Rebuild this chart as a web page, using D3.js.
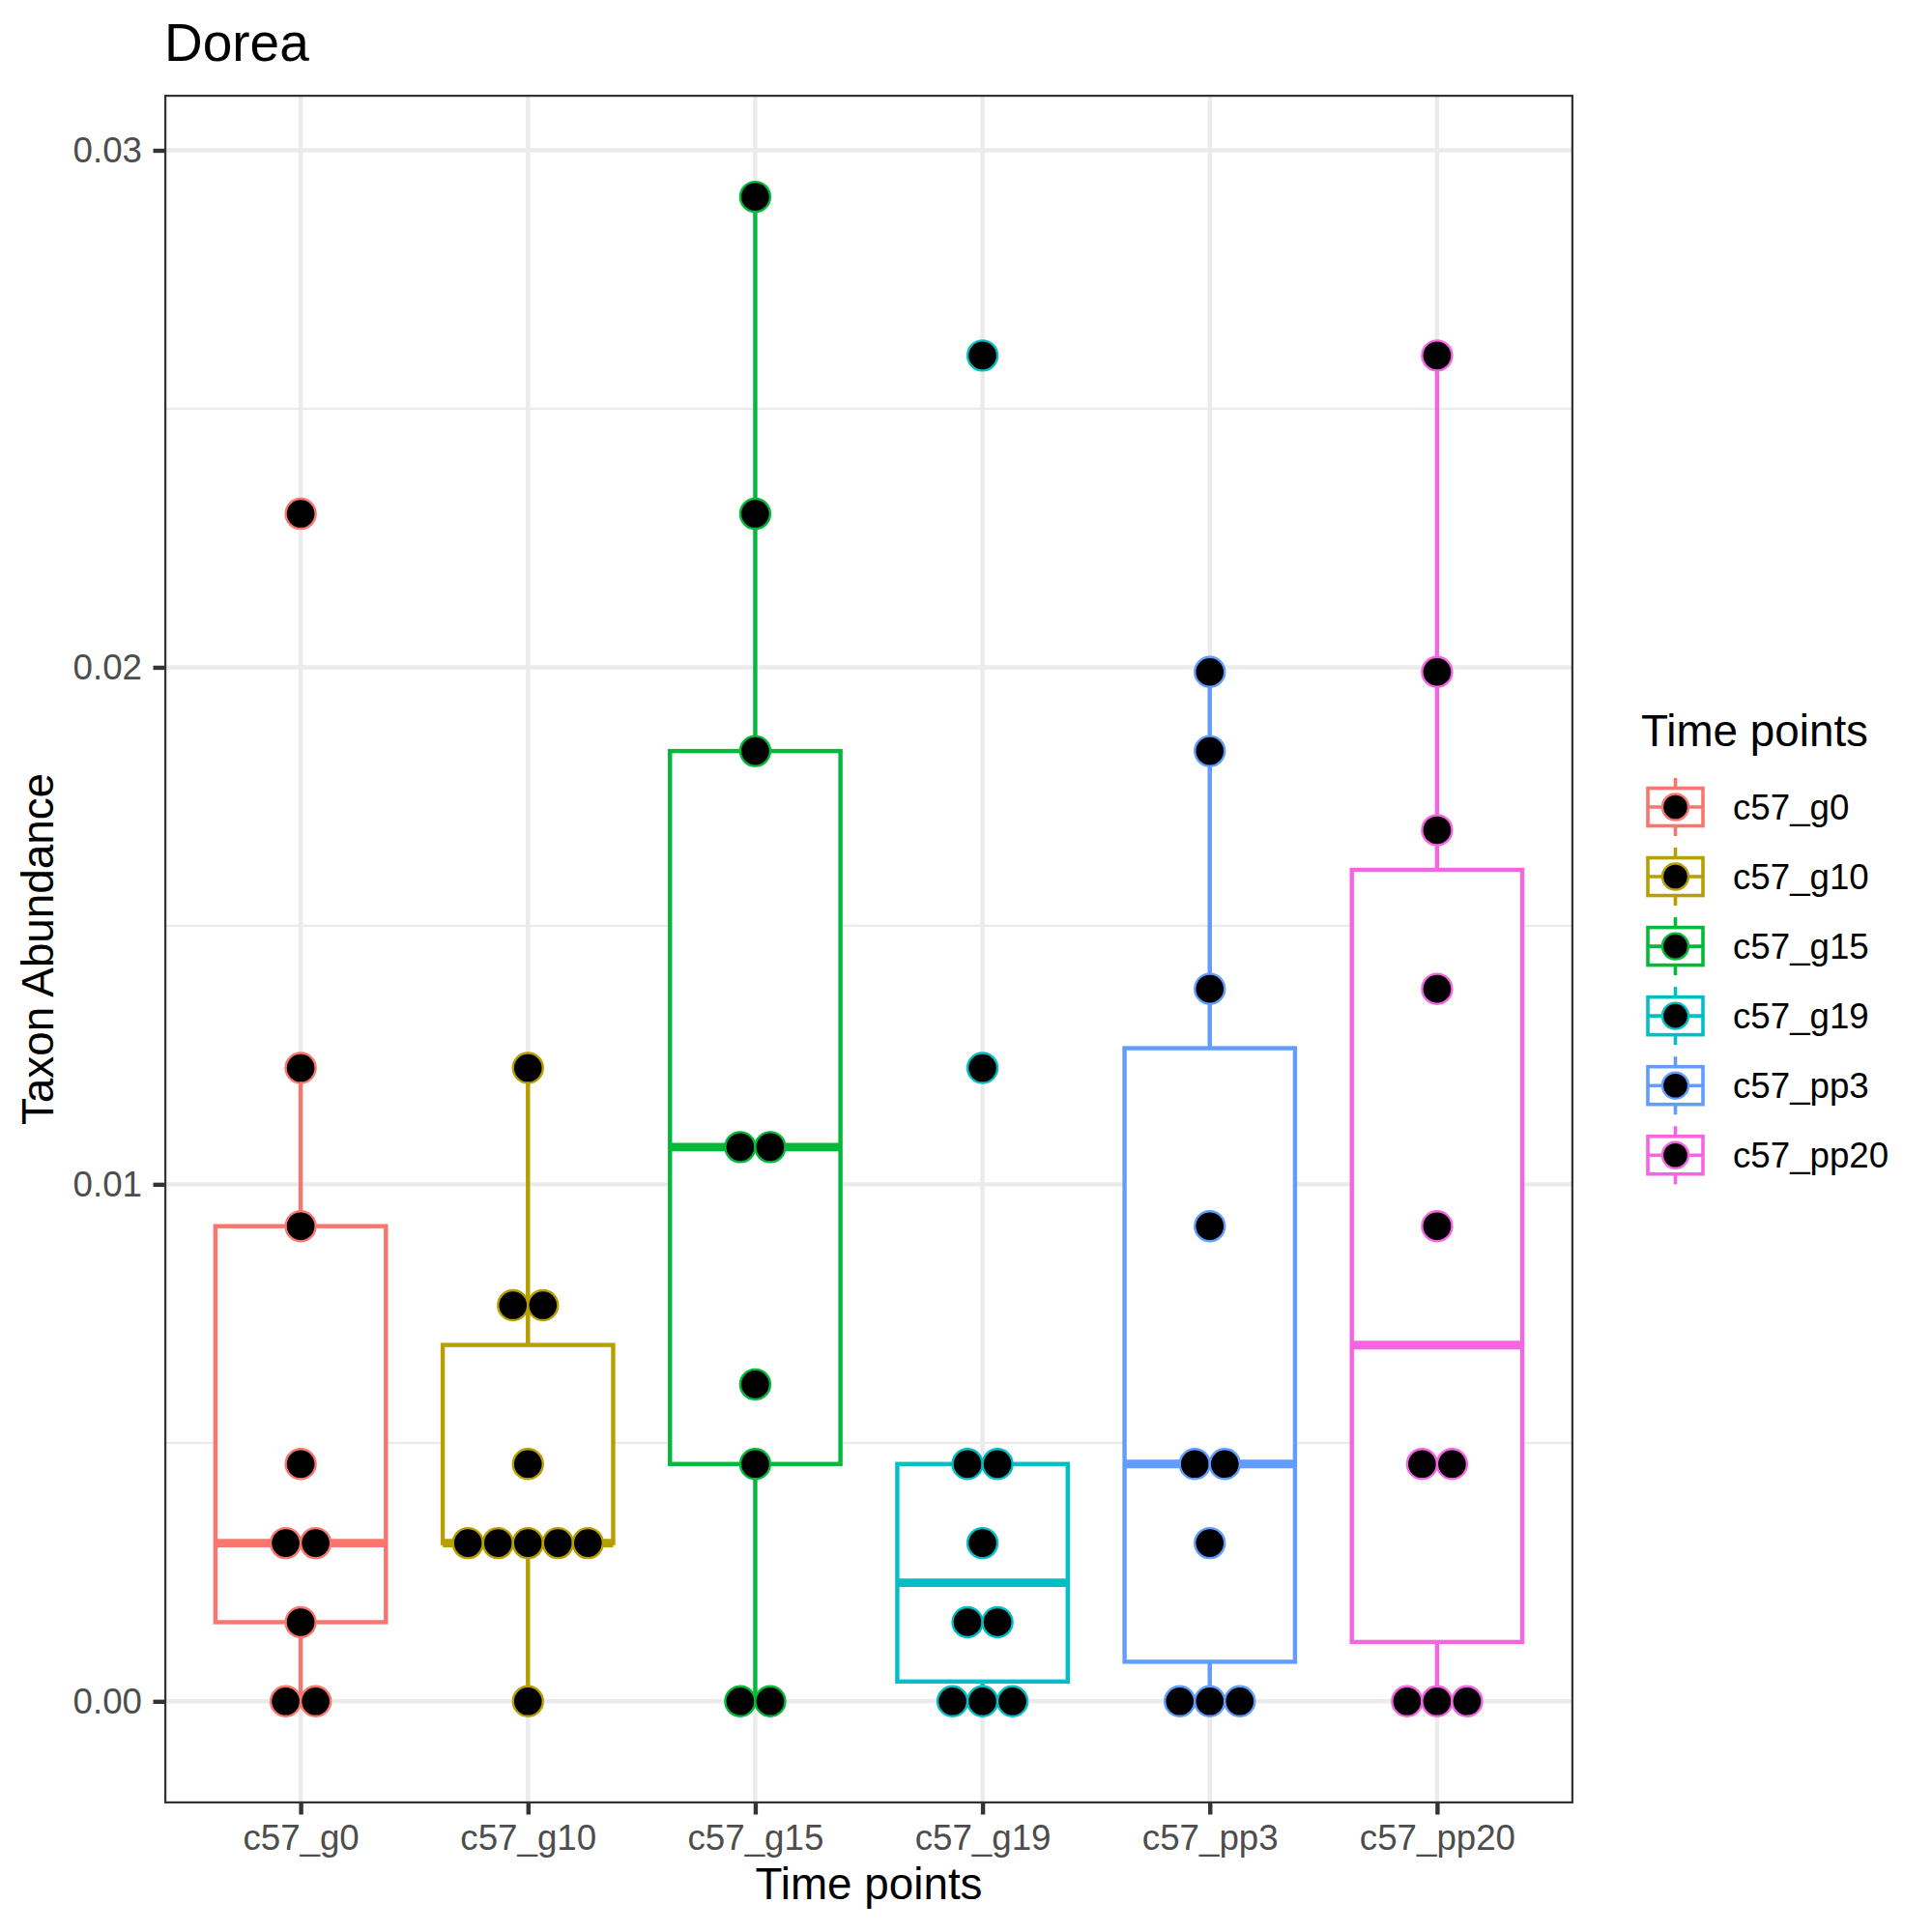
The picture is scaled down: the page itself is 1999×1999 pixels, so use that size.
<!DOCTYPE html>
<html>
<head>
<meta charset="utf-8">
<script src="https://cdn.jsdelivr.net/npm/d3@7"></script>
<style>
  html, body { margin: 0; padding: 0; background: #fff; }
  text { font-family: "Liberation Sans", Arial, Helvetica, sans-serif; }
</style>
</head>
<body>
<svg id="chart" width="1999" height="1999"></svg>
<script>
// ---------------- data ----------------
const chartTitle = "Dorea";
const xTitle = "Time points";
const yTitle = "Taxon Abundance";
const legendTitle = "Time points";
const categories = ["c57_g0", "c57_g10", "c57_g15", "c57_g19", "c57_pp3", "c57_pp20"];
const colors = ["#F8766D", "#B79F00", "#00BA38", "#00BFC4", "#619CFF", "#F564E3"];
const yTicks = [0, 0.01, 0.02, 0.03];
const yMinorTicks = [0.005, 0.015, 0.025];

const valuesG0   = [0, 0, 0.00153, 0.00306, 0.00306, 0.00459, 0.00919, 0.01225, 0.02297];
const valuesG10  = [0, 0.00306, 0.00306, 0.00306, 0.00306, 0.00306, 0.00459, 0.00766, 0.00766, 0.01225];
const valuesG15  = [0, 0, 0.00459, 0.00613, 0.01072, 0.01072, 0.01838, 0.02297, 0.02910];
const valuesG19  = [0, 0, 0, 0.00153, 0.00153, 0.00306, 0.00459, 0.00459, 0.01225, 0.02603];
const valuesPP3  = [0, 0, 0, 0.00306, 0.00459, 0.00459, 0.00919, 0.01378, 0.01838, 0.01991];
const valuesPP20 = [0, 0, 0, 0.00459, 0.00459, 0.00919, 0.01378, 0.01685, 0.01991, 0.02603];
const groupValues = [valuesG0, valuesG10, valuesG15, valuesG19, valuesPP3, valuesPP20];

const binwidth = 0.00058;   // dot diameter in data units
const yDomain = [-0.001976, 0.031075];

// ---------------- layout ----------------
const svg = d3.select("#chart");
const panel = { left: 170, right: 1628, top: 98, bottom: 1866 };
const lw = 4.4;             // base line width
const fontTick = 36.7, fontAxisTitle = 45.8, fontTitle = 55;

const x = d3.scalePoint().domain(categories).range([panel.left, panel.right]).padding(0.6);
const y = d3.scaleLinear().domain(yDomain).range([panel.bottom, panel.top]);
const color = d3.scaleOrdinal().domain(categories).range(colors);
const step = x.step();
const boxW = 0.75 * step;
const dotD = y(0) - y(binwidth);

svg.append("rect").attr("width", 1999).attr("height", 1999).attr("fill", "#fff");

// clip for panel
svg.append("defs").append("clipPath").attr("id", "pclip")
  .append("rect").attr("x", panel.left).attr("y", panel.top)
  .attr("width", panel.right - panel.left).attr("height", panel.bottom - panel.top);

const pg = svg.append("g").attr("clip-path", "url(#pclip)");
pg.append("rect").attr("x", panel.left).attr("y", panel.top)
  .attr("width", panel.right - panel.left).attr("height", panel.bottom - panel.top).attr("fill", "#fff");

// grid
pg.selectAll(".gminor").data(yMinorTicks).join("line")
  .attr("x1", panel.left).attr("x2", panel.right)
  .attr("y1", d => y(d)).attr("y2", d => y(d))
  .attr("stroke", "#EBEBEB").attr("stroke-width", lw / 2);
pg.selectAll(".gmajor").data(yTicks).join("line")
  .attr("x1", panel.left).attr("x2", panel.right)
  .attr("y1", d => y(d)).attr("y2", d => y(d))
  .attr("stroke", "#EBEBEB").attr("stroke-width", lw);
pg.selectAll(".gx").data(categories).join("line")
  .attr("x1", d => x(d)).attr("x2", d => x(d))
  .attr("y1", panel.top).attr("y2", panel.bottom)
  .attr("stroke", "#EBEBEB").attr("stroke-width", lw);

// box stats
function boxStats(vals) {
  const s = vals.slice().sort(d3.ascending);
  const q1 = d3.quantile(s, 0.25), med = d3.quantile(s, 0.5), q3 = d3.quantile(s, 0.75);
  const iqr = q3 - q1;
  const lo = d3.min(s.filter(v => v >= q1 - 1.5 * iqr));
  const hi = d3.max(s.filter(v => v <= q3 + 1.5 * iqr));
  return { q1, med, q3, lo, hi };
}

categories.forEach((cat, i) => {
  const st = boxStats(groupValues[i]);
  const cx = x(cat), col = color(cat);
  const g = pg.append("g");
  // whiskers
  g.append("line").attr("x1", cx).attr("x2", cx).attr("y1", y(st.q3)).attr("y2", y(st.hi))
    .attr("stroke", col).attr("stroke-width", lw);
  g.append("line").attr("x1", cx).attr("x2", cx).attr("y1", y(st.q1)).attr("y2", y(st.lo))
    .attr("stroke", col).attr("stroke-width", lw);
  // box
  g.append("rect").attr("x", cx - boxW / 2).attr("y", y(st.q3))
    .attr("width", boxW).attr("height", y(st.q1) - y(st.q3))
    .attr("fill", "#fff").attr("stroke", col).attr("stroke-width", lw)
    .attr("stroke-linejoin", "miter");
  // median
  g.append("line").attr("x1", cx - boxW / 2).attr("x2", cx + boxW / 2)
    .attr("y1", y(st.med)).attr("y2", y(st.med))
    .attr("stroke", col).attr("stroke-width", lw * 2).attr("stroke-linecap", "butt");
});

// dots (stacked centered horizontally)
categories.forEach((cat, i) => {
  const cx = x(cat), col = color(cat);
  const counts = d3.rollups(groupValues[i], v => v.length, v => v);
  const dots = [];
  counts.forEach(([val, n]) => {
    for (let k = 0; k < n; k++) dots.push({ val, off: (k - (n - 1) / 2) * dotD });
  });
  pg.append("g").selectAll("circle").data(dots).join("circle")
    .attr("cx", d => cx + d.off).attr("cy", d => y(d.val))
    .attr("r", dotD / 2).attr("fill", "#000")
    .attr("stroke", col).attr("stroke-width", 2.4);
});

// panel border
svg.append("rect").attr("x", panel.left + 1.1).attr("y", panel.top + 1.1)
  .attr("width", panel.right - panel.left - 2.2).attr("height", panel.bottom - panel.top - 2.2)
  .attr("fill", "none").attr("stroke", "#333333").attr("stroke-width", 2.2);

// axes
const yAxis = d3.axisLeft(y).tickValues(yTicks).tickFormat(d3.format(".2f"))
  .tickSizeInner(11.5).tickSizeOuter(0).tickPadding(11.5);
const yg = svg.append("g").attr("transform", `translate(${panel.left},0)`).call(yAxis);
yg.select(".domain").remove();
yg.selectAll(".tick line").attr("stroke", "#333333").attr("stroke-width", lw);
yg.selectAll(".tick text").attr("fill", "#4D4D4D").style("font-size", fontTick + "px")
  .style("font-family", '"Liberation Sans", Arial, sans-serif');

const xAxis = d3.axisBottom(x).tickSizeInner(11.5).tickSizeOuter(0).tickPadding(11.5);
const xg = svg.append("g").attr("transform", `translate(0,${panel.bottom})`).call(xAxis);
xg.select(".domain").remove();
xg.selectAll(".tick line").attr("stroke", "#333333").attr("stroke-width", lw);
xg.selectAll(".tick text").attr("fill", "#4D4D4D").style("font-size", fontTick + "px")
  .style("font-family", '"Liberation Sans", Arial, sans-serif')
  .attr("y", 48).attr("dy", 0);

// titles
svg.append("text").attr("x", panel.left).attr("y", 63).text(chartTitle)
  .style("font-size", fontTitle + "px").attr("fill", "#000");
svg.append("text").attr("x", (panel.left + panel.right) / 2).attr("y", 1965)
  .attr("text-anchor", "middle").text(xTitle)
  .style("font-size", fontAxisTitle + "px").attr("fill", "#000");
svg.append("text").attr("transform", `translate(55,${(panel.top + panel.bottom) / 2}) rotate(-90)`)
  .attr("text-anchor", "middle").text(yTitle)
  .style("font-size", fontAxisTitle + "px").attr("fill", "#000");

// legend
const lg = svg.append("g");
lg.append("text").attr("x", 1698).attr("y", 772).text(legendTitle)
  .style("font-size", fontAxisTitle + "px").attr("fill", "#000");
const keyCx = 1733.5, keyY0 = 835, keyStep = 72.05, kBoxW = 57, kBoxH = 39, kWh = 30;
categories.forEach((cat, i) => {
  const cy = keyY0 + i * keyStep, col = color(cat);
  const k = lg.append("g");
  k.append("line").attr("x1", keyCx).attr("x2", keyCx).attr("y1", cy - kWh).attr("y2", cy - kBoxH / 2)
    .attr("stroke", col).attr("stroke-width", 3.6);
  k.append("line").attr("x1", keyCx).attr("x2", keyCx).attr("y1", cy + kBoxH / 2).attr("y2", cy + kWh)
    .attr("stroke", col).attr("stroke-width", 3.6);
  k.append("rect").attr("x", keyCx - kBoxW / 2).attr("y", cy - kBoxH / 2)
    .attr("width", kBoxW).attr("height", kBoxH).attr("fill", "#fff")
    .attr("stroke", col).attr("stroke-width", 3.6);
  k.append("line").attr("x1", keyCx - kBoxW / 2).attr("x2", keyCx + kBoxW / 2).attr("y1", cy).attr("y2", cy)
    .attr("stroke", col).attr("stroke-width", 3.6);
  k.append("circle").attr("cx", keyCx).attr("cy", cy).attr("r", 13.5)
    .attr("fill", "#000").attr("stroke", col).attr("stroke-width", 2.4);
  k.append("text").attr("x", 1793).attr("y", cy + 13).text(cat)
    .style("font-size", fontTick + "px").attr("fill", "#000");
});
</script>
</body>
</html>
